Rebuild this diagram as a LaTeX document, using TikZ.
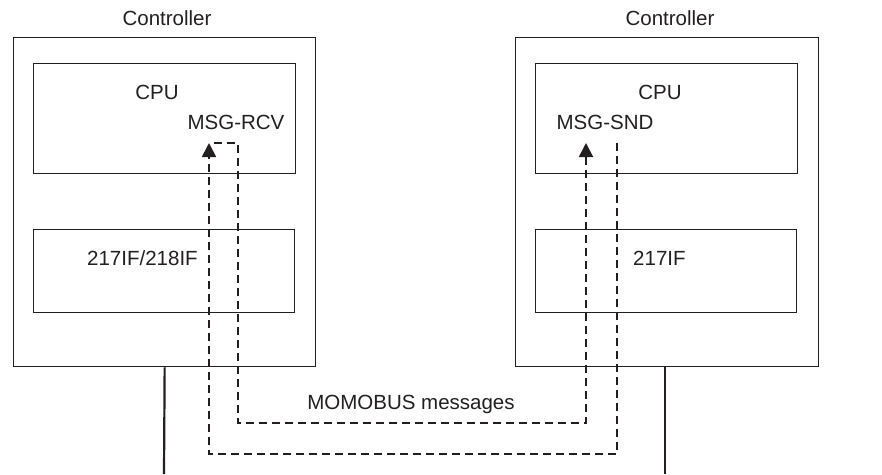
\documentclass[tikz,border=0pt]{standalone}
\usepackage{fontspec}
\setmainfont{Liberation Sans}
\usetikzlibrary{arrows.meta}
\definecolor{ink}{HTML}{231F20}
\begin{document}
\begin{tikzpicture}[x=1pt,y=-1pt,
  every node/.style={text=ink,font=\fontsize{20.5}{24}\selectfont},
  box/.style={draw=ink,line width=1.3pt,rectangle,inner sep=0pt,anchor=north west},
  lbl/.style={inner sep=0pt},
  bus/.style={draw=ink,line width=2.2pt},
  msg/.style={draw=ink,line width=1.8pt,dash pattern=on 8pt off 5pt},
  tip/.style={-{Triangle[width=14pt,length=14pt]}}]
\useasboundingbox (0,0) rectangle (882,474);

% controllers
\node[box,minimum width=302pt,minimum height=329pt] (ctrlL) at (13,37) {};
\node[box,minimum width=303pt,minimum height=329pt] (ctrlR) at (515,37) {};
\node[lbl] (titleL) at (167,18) {Controller};
\node[lbl] (titleR) at (670,18) {Controller};

% CPU modules
\node[box,minimum width=262pt,minimum height=110pt] (cpuL) at (33,63) {};
\node[box,minimum width=262pt,minimum height=110pt] (cpuR) at (535,63) {};
\node[lbl] (cpuLt) at (157,92) {CPU};
\node[lbl] (cpuRt) at (660,92) {CPU};
\node[lbl] (rcv) at (236,122) {MSG-RCV};
\node[lbl] (snd) at (605,122) {MSG-SND};

% communication modules
\node[box,minimum width=261pt,minimum height=83pt] (ifL) at (33,229) {};
\node[box,minimum width=261pt,minimum height=83pt] (ifR) at (535,229) {};
\node[lbl,anchor=west] (ifLt) at (87,258) {217IF/218IF};
\node[lbl,anchor=west] (ifRt) at (633,258) {217IF};

% network drops
\coordinate (busL) at (164,474);
\coordinate (busR) at (665,474);
\draw[bus] (ctrlL.south) -- (busL);
\draw[bus] (ctrlR.south -| busR) -- (busR);

% message route points
\coordinate (rcvIn) at (209,143);
\coordinate (rcvOut) at (238,143);
\coordinate (sndIn) at (586,143);
\coordinate (sndOut) at (617,143);
\coordinate (loopA) at (238,423);
\coordinate (loopB) at (586,423);
\coordinate (loopC) at (617,454);
\coordinate (loopD) at (209,454);

\draw[msg,tip] (sndOut) -- (loopC) -- (loopD) -- (rcvIn);
\draw[msg,tip] ([xshift=5pt]rcvIn) -- (rcvOut) -- (loopA) -- (loopB) -- (sndIn);

\node[lbl] (busmsg) at (411,404) {MOMOBUS messages};
\end{tikzpicture}
\end{document}
